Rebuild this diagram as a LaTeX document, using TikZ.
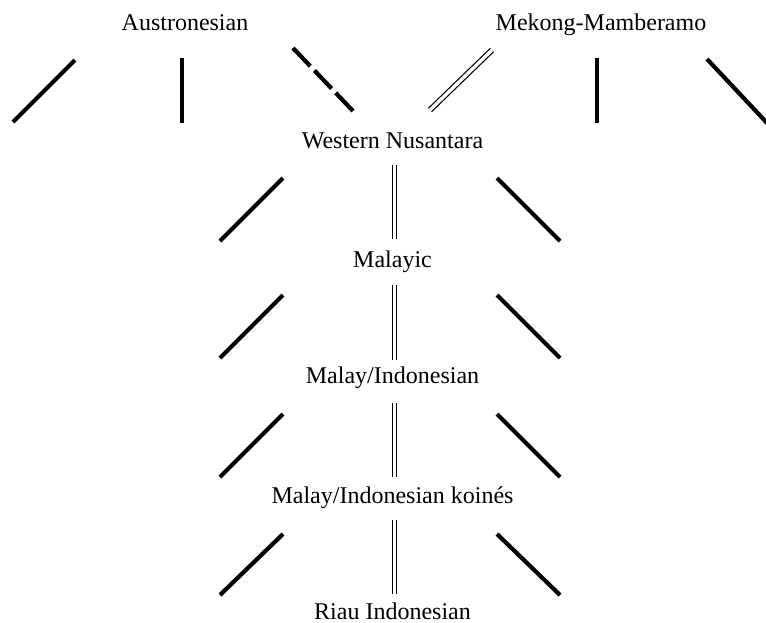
\documentclass[tikz,border=0pt]{standalone}
\usepackage{fontspec}
\setmainfont{Liberation Serif}
\begin{document}
\begin{tikzpicture}[x=1pt,y=-1pt,
  lang/.style={anchor=base,inner sep=0pt,font=\fontsize{24}{28}\selectfont},
  heavy/.style={line width=4.2pt,line cap=butt},
  broken/.style={heavy,dash pattern=on 25pt off 6pt},
  twin/.style={draw=black,double=white,double distance=3.4pt,line width=1.2pt,line cap=butt}]
\useasboundingbox (0,0) rectangle (766,622);

% language names
\node[lang] (aus) at (185,30) {Austronesian};
\node[lang] (mek) at (601,30) {Mekong-Mamberamo};
\node[lang] (wn)  at (392.5,148) {Western Nusantara};
\node[lang] (mc)  at (392.5,267) {Malayic};
\node[lang] (mi)  at (392.5,383) {Malay/Indonesian};
\node[lang] (mk)  at (392.5,503) {Malay/Indonesian koinés};
\node[lang] (ri)  at (392.5,619) {Riau Indonesian};

% branches below Austronesian
\coordinate (a1s) at (75,60);   \coordinate (a1e) at (13,122);
\coordinate (a2s) at (182,58);  \coordinate (a2e) at (182,123);
\coordinate (a3s) at (293,48);  \coordinate (a3e) at (353,111);
\draw[heavy] (a1s) -- (a1e);
\draw[heavy] (a2s) -- (a2e);
\draw[broken] (a3s) -- (a3e);

% branches below Mekong-Mamberamo
\coordinate (m1s) at (492,50);  \coordinate (m1e) at (430,110);
\coordinate (m2s) at (597,58);  \coordinate (m2e) at (597,123);
\coordinate (m3s) at (707,59);  \coordinate (m3e) at (768,124);
\draw[twin] (m1s) -- (m1e);
\draw[heavy] (m2s) -- (m2e);
\draw[heavy] (m3s) -- (m3e);

% three branches between successive levels
\foreach \n/\ts/\te/\ds/\de in {1/165/239/178/241, 2/285/360/295/358, 3/403/477/414/477, 4/520/594/534/595}{
  \coordinate (l\n s) at (283,\ds); \coordinate (l\n e) at (220,\de);
  \coordinate (c\n s) at (394.5,\ts); \coordinate (c\n e) at (394.5,\te);
  \coordinate (r\n s) at (497,\ds); \coordinate (r\n e) at (560,\de);
  \draw[heavy] (l\n s) -- (l\n e);
  \draw[twin] (c\n s) -- (c\n e);
  \draw[heavy] (r\n s) -- (r\n e);
}
\end{tikzpicture}
\end{document}
